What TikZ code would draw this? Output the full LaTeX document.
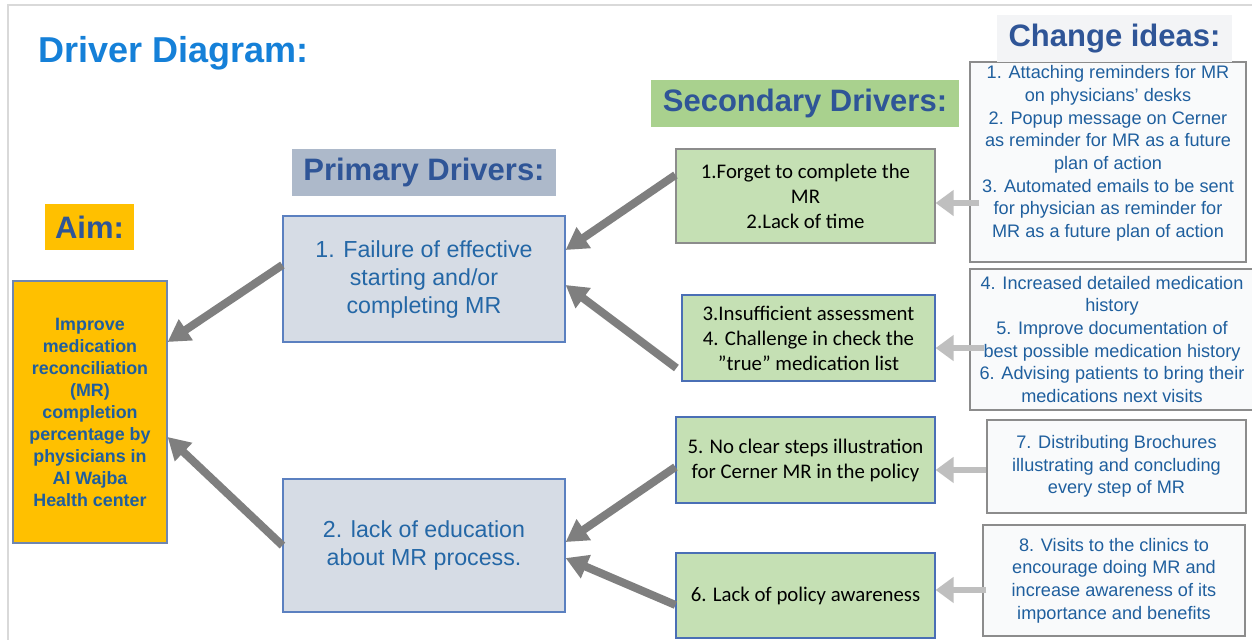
\documentclass[tikz,border=0pt]{standalone}
\usepackage{fontspec}
\setmainfont{Liberation Sans}
\newfontfamily\calfont{Carlito}
\usetikzlibrary{arrows.meta}
\definecolor{titleblue}{HTML}{1580D8}
\definecolor{hdrblue}{HTML}{2F5597}
\definecolor{aimfill}{HTML}{FFC000}
\definecolor{aimtext}{HTML}{1F5E9E}
\definecolor{aimborder}{HTML}{6F86B0}
\definecolor{pfill}{HTML}{D6DCE5}
\definecolor{pborder}{HTML}{5B80C0}
\definecolor{ptext}{HTML}{2467A6}
\definecolor{prihdr}{HTML}{ADB9CA}
\definecolor{sechdr}{HTML}{A9D18E}
\definecolor{sfill}{HTML}{C5E0B4}
\definecolor{sgray}{HTML}{8C8C8C}
\definecolor{sblue}{HTML}{4A6FB5}
\definecolor{cfill}{HTML}{F9FAFB}
\definecolor{cborder}{HTML}{8C8C8C}
\definecolor{ctext}{HTML}{1F5F9E}
\definecolor{chfill}{HTML}{F3F4F6}
\definecolor{darkarrow}{HTML}{7F7F7F}
\definecolor{litearrow}{HTML}{BFBFBF}
\definecolor{framegray}{HTML}{D9D9D9}
\begin{document}
\begin{tikzpicture}[x=0.75pt,y=-0.75pt,
  hdr/.style={inner sep=0, text=hdrblue, font=\bfseries\fontsize{23.25}{28}\selectfont},
  aimbox/.style={draw=aimborder, line width=0.9pt, fill=aimfill, inner sep=0, align=center, text=aimtext, font=\bfseries\fontsize{13.4}{16.5}\selectfont},
  pbox/.style={draw=pborder, line width=0.9pt, fill=pfill, inner sep=0, align=center, text=ptext, font=\fontsize{17.4}{21}\selectfont},
  sbox/.style={draw=sblue, line width=0.9pt, fill=sfill, inner sep=0, align=center, text=black, font=\calfont\fontsize{15.6}{18.75}\selectfont},
  cbox/.style={draw=cborder, line width=0.9pt, fill=cfill, inner sep=0, align=center, text=ctext, font=\fontsize{13.6}{17}\selectfont},
  ctxt/.style={inner sep=0, align=center, text=ctext, font=\fontsize{13.6}{17}\selectfont},
  dark/.style={draw=darkarrow, line width=6pt, -{Triangle[length=16.5pt,width=18pt]}},
  lite/.style={draw=litearrow, line width=4.5pt, -{Triangle[length=13.5pt,width=18.75pt]}}]
\useasboundingbox (0,0) rectangle (1252,639);
\fill[white] (0,0) rectangle (1252,639);
\draw[framegray, line width=1.5pt] (8,641) -- (8,5) -- (1254,5);

\node[anchor=base west, inner sep=0, text=titleblue, font=\bfseries\fontsize{27}{32}\selectfont] (title) at (38,62) {Driver Diagram:};

\node[hdr, fill=aimfill, minimum width=66.75pt, minimum height=34.5pt] (aimh) at (89.5,227) {Aim:};
\node[hdr, fill=prihdr, minimum width=198pt, minimum height=35.25pt] (prih) at (424,172.5) {Primary Drivers:};
\node[hdr, fill=sechdr, minimum width=231pt, minimum height=35.25pt] (sech) at (805,103.5) {Secondary Drivers:};

\node[aimbox, minimum width=115.5pt, minimum height=196.5pt] (aim) at (90,412) {Improve\\medication\\reconciliation\\(MR)\\completion\\percentage by\\physicians in\\Al Wajba\\Health center};

\node[pbox, minimum width=211.5pt, minimum height=94.5pt] (p1) at (424,279) {1. Failure of effective\\starting and/or\\completing MR};
\node[pbox, minimum width=211.5pt, minimum height=99.75pt] (p2) at (424,545.5) {2. lack of education\\about MR process.};

\node[sbox, draw=sgray, minimum width=194.25pt, minimum height=70.5pt] (s1) at (805.5,196) {1.Forget to complete the\\MR\\2.Lack of time};
\node[sbox, minimum width=189.75pt, minimum height=64.5pt] (s2) at (808.5,338) {3.Insufficient assessment\\4. Challenge in check the\\”true” medication list};
\node[sbox, minimum width=194.25pt, minimum height=64.5pt] (s3) at (805.5,460) {5. No clear steps illustration\\for Cerner MR in the policy};
\node[sbox, minimum width=194.25pt, minimum height=63.75pt] (s4) at (805.5,595.5) {6. Lack of policy awareness};

\node[cbox, minimum width=207pt, minimum height=150pt] (c1) at (1108,162) {};
\node[ctxt] (c1t) at ([yshift=6.4pt]c1.center) {1. Attaching reminders for MR\\on physicians' desks\\2. Popup message on Cerner\\as reminder for MR as a future\\plan of action\\3. Automated emails to be sent\\for physician as reminder for\\MR as a future plan of action};
\node[hdr, fill=chfill, minimum width=176.25pt, minimum height=35.25pt] (ch) at (1114.5,38.5) {Change ideas:};
\node[cbox, minimum width=213pt, minimum height=105.75pt] (c2) at (1112,339.5) {4. Increased detailed medication\\history\\5. Improve documentation of\\best possible medication history\\6. Advising patients to bring their\\medications next visits};
\node[cbox, minimum width=194.25pt, minimum height=69.75pt] (c3) at (1116.5,466.5) {7. Distributing Brochures\\illustrating and concluding\\every step of MR};
\node[cbox, minimum width=196.5pt, minimum height=83.25pt] (c4) at (1114,580.5) {8. Visits to the clinics to\\encourage doing MR and\\increase awareness of its\\importance and benefits};

% dark arrows
\draw[dark] ([yshift=10.5pt]p1.west) -- ([yshift=52.5pt]aim.east);
\draw[dark] (p2.west) -- ([yshift=-18.75pt]aim.east);
\draw[dark] ([yshift=15.75pt]s1.west) -- ([yshift=21.75pt]p1.east);
\draw[dark] ([xshift=-3.75pt,yshift=-22.5pt]s2.west) -- ([yshift=-4.5pt]p1.east);
\draw[dark] ([yshift=-5.25pt]s3.west) -- ([yshift=2.6pt]p2.east);
\draw[dark] ([yshift=-7.1pt]s4.west) -- ([yshift=-9.4pt]p2.east);

% light arrows
\draw[lite] ([xshift=7.5pt,yshift=-30.75pt]c1.west) -- ([yshift=-30.75pt]c1.west -| s1.east);
\draw[lite] ([xshift=11pt,yshift=-6.4pt]c2.west) -- ([yshift=-6.4pt]c2.west -| s2.east);
\draw[lite] ([yshift=-2.6pt]c3.west) -- ([yshift=-2.6pt]c3.west -| s3.east);
\draw[lite] ([xshift=3pt,yshift=-7.1pt]c4.west) -- ([yshift=-7.1pt]c4.west -| s4.east);
\end{tikzpicture}
\end{document}
